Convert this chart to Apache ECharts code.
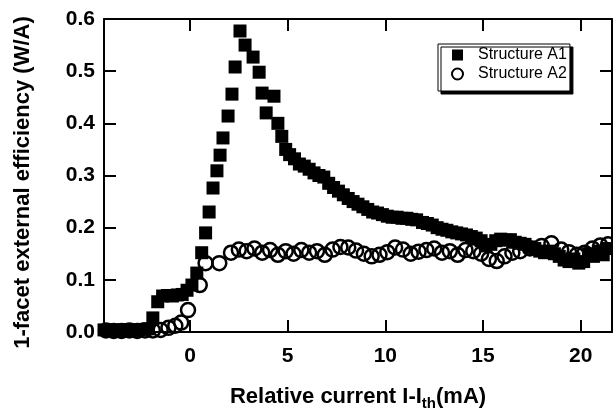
<!DOCTYPE html>
<html>
<head>
<meta charset="utf-8">
<script src="https://cdn.jsdelivr.net/npm/echarts@6/dist/echarts.min.js"></script>
<style>html,body{margin:0;padding:0;background:#fff}#c{width:613px;height:416px}</style>
</head>
<body>
<div id="c"></div>
<script>
var xTicks = [0, 5, 10, 15, 20];
var a1X = [-4.4,-4.15,-3.9,-3.65,-3.4,-3.15,-2.9,-2.65,-2.4,-2.15,
  -1.9,-1.65,-1.4,-1.15,-0.9,-0.65,-0.4,-0.15,0.1,0.35,0.6,0.8,0.98,1.18,1.38,1.54,1.69,1.95,2.15,2.31,2.56,2.82,3.23,3.54,3.69,3.9,4.3,4.5,4.7,4.9,
  5.1,5.35,5.6,5.85,6.1,6.35,6.6,6.85,7.1,7.35,7.6,7.85,8.1,8.35,8.6,8.85,9.1,9.35,9.6,9.85,10.1,10.35,10.6,10.85,11.1,11.35,11.6,
  11.9,12.15,12.4,12.65,12.9,13.15,13.4,13.65,13.9,14.15,14.4,14.65,14.9,15.15,15.4,15.65,15.9,16.15,16.4,16.65,16.9,17.15,17.4,17.65,17.9,
  18.15,18.4,18.65,18.9,19.15,19.4,19.65,19.9,20.15,20.4,20.65,20.9,21.15,21.4];
var a1Y = [0.004,0.003,0.004,0.003,0.004,0.004,0.003,0.004,0.005,0.006,
  0.027,0.058,0.069,0.07,0.069,0.071,0.072,0.08,0.09,0.113,0.152,0.19,0.23,0.276,0.309,0.339,0.372,0.414,0.456,0.508,0.577,0.55,0.527,0.498,0.458,0.42,0.452,0.40,0.375,0.35,
  0.34,0.332,0.322,0.318,0.312,0.305,0.3,0.297,0.285,0.277,0.27,0.263,0.256,0.25,0.245,0.24,0.235,0.23,0.228,0.225,0.222,0.22,0.22,0.218,0.218,0.216,0.215,
  0.21,0.208,0.205,0.2,0.197,0.195,0.192,0.19,0.188,0.186,0.183,0.18,0.175,0.165,0.168,0.175,0.178,0.176,0.177,0.172,0.17,0.168,0.163,0.16,0.155,
  0.152,0.155,0.15,0.145,0.138,0.135,0.14,0.132,0.135,0.15,0.145,0.155,0.148,0.16];
var a2X = [-4.3,-3.9,-3.5,-3.1,-2.7,-2.3,-1.9,-1.5,-1.1,-0.75,-0.45,-0.1,0.5,0.8,1.5,2.1,2.5,2.9,3.3,3.7,4.1,4.5,4.9,5.3,5.7,6.1,6.5,6.9,7.3,7.7,8.1,8.5,8.9,9.3,9.7,10.1,10.5,10.9,11.3,11.7,12.1,12.5,12.9,13.3,13.7,14.1,14.5,14.9,15.3,15.7,16.1,16.5,16.9,17.4,18.0,18.5,19.0,19.4,19.8,20.2,20.6,21.0,21.4];
var a2Y = [0.003,0.002,0.002,0.003,0.002,0.003,0.003,0.004,0.008,0.012,0.018,0.042,0.09,0.132,0.132,0.152,0.158,0.155,0.16,0.152,0.157,0.148,0.155,0.15,0.157,0.152,0.155,0.148,0.158,0.163,0.162,0.156,0.15,0.145,0.148,0.153,0.162,0.158,0.15,0.154,0.157,0.16,0.152,0.155,0.148,0.157,0.155,0.15,0.14,0.136,0.145,0.152,0.155,0.16,0.165,0.17,0.158,0.153,0.148,0.152,0.16,0.166,0.168];

function zip(xs, ys){ return xs.map(function(x,i){ return [x, ys[i]]; }); }
var FONT = '"Liberation Sans", Arial, sans-serif';
var lineStyle = {color:'#000', width:2};
var tickStyle = {show:true, inside:true, length:12, lineStyle:{color:'#000', width:2}};

var chart = echarts.init(document.getElementById('c'), null, {renderer:'canvas'});
chart.setOption({
  animation:false,
  backgroundColor:'#fff',
  grid:{left:104, right:1, top:19, bottom:84},
  legend:{
    orient:'vertical', left:438, top:44,
    backgroundColor:'#fff', borderColor:'#000', borderWidth:1,
    shadowColor:'#000', shadowOffsetX:3, shadowOffsetY:3, shadowBlur:0,
    padding:[3,3,9,13], itemGap:3, itemWidth:11, itemHeight:11,
    textStyle:{fontFamily:FONT, fontSize:16, color:'#000', padding:[0,0,0,10]},
    data:['Structure A1','Structure A2']
  },
  xAxis:[{
    type:'value', min:-4.4, max:21.6, position:'bottom',
    axisLine:{show:true, onZero:false, lineStyle:lineStyle},
    axisTick:Object.assign({customValues:xTicks}, tickStyle),
    axisLabel:{customValues:xTicks, margin:14, fontFamily:FONT, fontSize:21, fontWeight:'bold', color:'#000'},
    splitLine:{show:false},
    name:'Relative current I-I{s|th}(mA)', nameLocation:'middle', nameGap:51,
    nameTextStyle:{fontFamily:FONT, fontSize:22, fontWeight:'bold', color:'#000',
      rich:{s:{fontFamily:FONT, fontSize:15, fontWeight:'bold', color:'#000', padding:[13,0,0,0]}}}
  },{
    type:'value', min:-4.4, max:21.6, position:'top',
    axisLine:{show:true, onZero:false, lineStyle:lineStyle},
    axisTick:Object.assign({customValues:xTicks}, tickStyle),
    axisLabel:{show:false}, splitLine:{show:false}
  }],
  yAxis:[{
    type:'value', min:0, max:0.6, interval:0.1, position:'left',
    axisLine:{show:true, onZero:false, lineStyle:lineStyle},
    axisTick:tickStyle,
    axisLabel:{margin:9, fontFamily:FONT, fontSize:21, fontWeight:'bold', color:'#000',
      formatter:function(v){ return v.toFixed(1); }},
    splitLine:{show:false},
    name:'1-facet external efficiency (W/A)', nameLocation:'middle', nameGap:70, nameRotate:90,
    nameTextStyle:{fontFamily:FONT, fontSize:22, fontWeight:'bold', color:'#000', padding:[0,14,0,0]}
  },{
    type:'value', min:0, max:0.6, interval:0.1, position:'right',
    axisLine:{show:true, onZero:false, lineStyle:lineStyle},
    axisTick:tickStyle, axisLabel:{show:false}, splitLine:{show:false}
  }],
  series:[{
    name:'Structure A1', type:'scatter', xAxisIndex:0, yAxisIndex:0,
    symbol:'rect', symbolSize:13, clip:false,
    itemStyle:{color:'#000', opacity:1},
    data:zip(a1X, a1Y)
  },{
    name:'Structure A2', type:'scatter', xAxisIndex:0, yAxisIndex:0,
    symbol:'circle', symbolSize:14, clip:false,
    itemStyle:{color:'rgba(255,255,255,0)', borderColor:'#000', borderWidth:2.5, opacity:1},
    data:zip(a2X, a2Y)
  }]
});
</script>
</body>
</html>
